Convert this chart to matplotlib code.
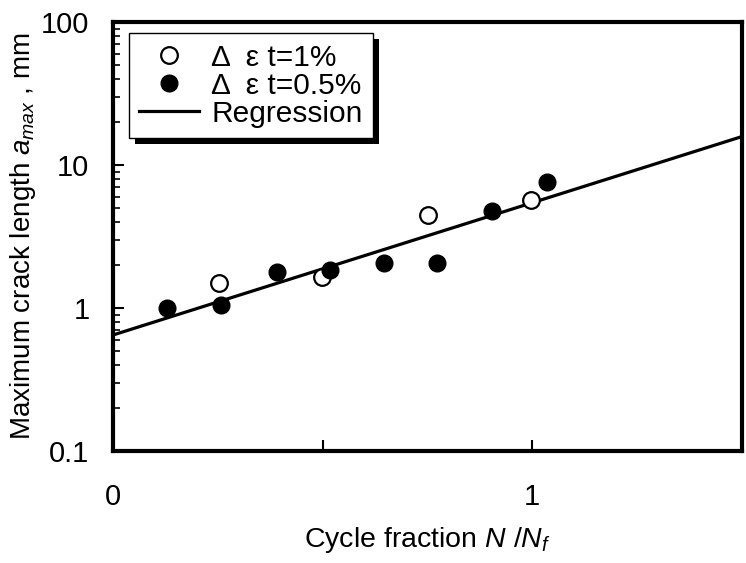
import numpy as np
import matplotlib.pyplot as plt
from matplotlib.patches import Rectangle
from matplotlib.lines import Line2D
from matplotlib.ticker import NullFormatter
from matplotlib.transforms import IdentityTransform

plt.rcParams['font.family'] = ['Liberation Sans', 'DejaVu Sans']
plt.rcParams['mathtext.fontset'] = 'custom'
plt.rcParams['mathtext.rm'] = 'Liberation Sans'
plt.rcParams['mathtext.it'] = 'Liberation Sans:italic'

# delta eps_t = 1 %  (open circles)
frac_1 = [0.252, 0.499, 0.751, 0.998]
amax_1 = [1.50, 1.65, 4.47, 5.69]
# delta eps_t = 0.5 %  (filled circles)
frac_05 = [0.128, 0.257, 0.390, 0.518, 0.646, 0.772, 0.903, 1.036]
amax_05 = [1.00, 1.05, 1.79, 1.84, 2.06, 2.06, 4.77, 7.61]
# regression  a_max = A * exp(B * N/Nf)
reg_A = 0.647
reg_B = 2.13

x_ticks = [0, 0.5, 1, 1.5]
x_labels = ['0', '', '1', '']
y_ticks = [0.1, 1, 10, 100]
y_labels = ['0.1', '1', '10', '100']

fig = plt.figure(figsize=(7.46, 5.63), dpi=100)
ax = fig.add_axes([0.1515, 0.199, 0.843, 0.762])

xr = np.linspace(0, 1.5, 50)
ax.plot(xr, reg_A * np.exp(reg_B * xr), color='k', lw=2.3, zorder=2)
ax.plot(frac_1, amax_1, 'o', ms=12, mfc='white', mec='k', mew=1.6, zorder=3)
ax.plot(frac_05, amax_05, 'o', ms=12, mfc='k', mec='k', zorder=4)

ax.set_yscale('log')
ax.set_xlim(0, 1.5)
ax.set_ylim(0.1, 100)
ax.set_xticks(x_ticks)
ax.set_xticklabels(x_labels)
ax.set_yticks(y_ticks)
ax.set_yticklabels(y_labels)
ax.yaxis.set_minor_formatter(NullFormatter())
ax.tick_params(axis='both', which='major', direction='in', length=8, width=1.5, labelsize=21)
ax.tick_params(axis='y', which='major', pad=17)
ax.tick_params(axis='x', which='major', pad=23)
ax.tick_params(axis='y', which='minor', direction='in', length=5, width=1.2)
for s in ax.spines.values():
    s.set_linewidth(3)

ax.set_xlabel(r'Cycle fraction $N$ /$N_{f}$', fontsize=20.5, labelpad=10)
ax.set_ylabel(r'Maximum crack length $a_{max}$ , mm', fontsize=20, labelpad=2)

handles = [
    Line2D([], [], ls='none', marker='o', ms=12, mfc='white', mec='k', mew=1.6),
    Line2D([], [], ls='none', marker='o', ms=12, mfc='k', mec='k'),
    Line2D([], [], color='k', lw=2.3),
]
labels = ['Δ  ε t=1%', 'Δ  ε t=0.5%', 'Regression']
leg = ax.legend(handles, labels, loc='upper left', bbox_to_anchor=(0.025, 0.974),
                borderaxespad=0, fontsize=21.5, fancybox=False, framealpha=1,
                edgecolor='k', handlelength=2.0, handletextpad=0.42,
                labelspacing=0.0, borderpad=0.35)
leg.get_frame().set_linewidth(1.0)
leg.set_zorder(6)

fig.canvas.draw()
bb = leg.get_window_extent()
shadow = Rectangle((bb.x0 + 6, bb.y0 - 6), bb.width, bb.height,
                   transform=IdentityTransform(), facecolor='k', edgecolor='none', zorder=5.5)
ax.add_artist(shadow)

fig.savefig('out.png', dpi=100)
